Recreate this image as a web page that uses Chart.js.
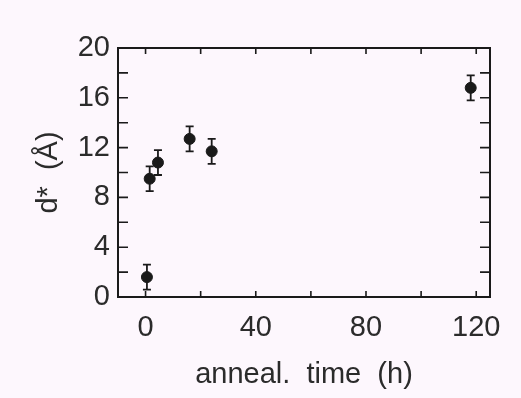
<!DOCTYPE html>
<html lang="en">

<head>
    <meta charset="utf-8">
    <title>d* vs anneal time</title>
    <script src="https://cdn.jsdelivr.net/npm/chart.js@4.4.0/dist/chart.umd.min.js"></script>
    <style>
        html, body { margin: 0; padding: 0; background: #fdf7fd; }
        #wrap { width: 521px; height: 398px; }
    </style>
</head>

<body>
    <div id="wrap"><canvas id="myChart" width="521" height="398"></canvas></div>
    <script>
        // anneal time (h) and d* (Å) with error bars
        const annealTime = [0.5, 1.5, 4.5, 16, 24, 118];
        const dStar = [1.6, 9.5, 10.8, 12.7, 11.7, 16.8];
        const dErr = [1.0, 1.0, 1.0, 1.0, 1.0, 1.0];

        const xTickLabels = [0, 40, 80, 120];
        const yTickLabels = [0, 4, 8, 12, 16, 20];

        const ink = '#1a1a1a';
        const textInk = '#2b2b2b';
        const tickFont = { family: 'Liberation Sans', size: 29 };

        // frame, inward ticks and error bars
        const framePlugin = {
            id: 'frame',
            afterDatasetsDraw(chart) {
                const ctx = chart.ctx;
                const a = chart.chartArea;
                const xs = chart.scales.x, ys = chart.scales.y;
                ctx.save();
                ctx.strokeStyle = ink;
                ctx.lineWidth = 2;
                ctx.strokeRect(a.left, a.top, a.right - a.left, a.bottom - a.top);

                ctx.lineWidth = 1.6;
                ctx.beginPath();
                xs.ticks.forEach(t => {
                    if (t.value % 20 !== 0) return;
                    const px = xs.getPixelForValue(t.value);
                    ctx.moveTo(px, a.bottom); ctx.lineTo(px, a.bottom - 6);
                    ctx.moveTo(px, a.top); ctx.lineTo(px, a.top + 6);
                });
                ys.ticks.forEach(t => {
                    if (t.value % 2 !== 0 || t.value <= 0 || t.value >= 20) return;
                    const py = ys.getPixelForValue(t.value);
                    ctx.moveTo(a.left, py); ctx.lineTo(a.left + 10, py);
                    ctx.moveTo(a.right, py); ctx.lineTo(a.right - 10, py);
                });
                ctx.stroke();

                // error bars
                ctx.lineWidth = 1.8;
                ctx.beginPath();
                annealTime.forEach((t, i) => {
                    const px = xs.getPixelForValue(t);
                    const hi = ys.getPixelForValue(dStar[i] + dErr[i]);
                    const lo = ys.getPixelForValue(dStar[i] - dErr[i]);
                    ctx.moveTo(px, hi); ctx.lineTo(px, lo);
                    ctx.moveTo(px - 4, hi); ctx.lineTo(px + 4, hi);
                    ctx.moveTo(px - 4, lo); ctx.lineTo(px + 4, lo);
                });
                ctx.stroke();
                ctx.restore();
            }
        };

        new Chart(document.getElementById('myChart'), {
            type: 'scatter',
            data: {
                datasets: [{
                    label: 'd*',
                    data: annealTime.map((t, i) => ({ x: t, y: dStar[i] })),
                    backgroundColor: ink,
                    borderColor: ink,
                    pointRadius: 5.5,
                    pointHoverRadius: 5.5
                }]
            },
            options: {
                responsive: false,
                animation: false,
                layout: { padding: { top: 48, right: 31, left: 0, bottom: 0 } },
                plugins: { legend: { display: false }, tooltip: { enabled: false } },
                scales: {
                    x: {
                        type: 'linear',
                        min: -10,
                        max: 125,
                        afterFit: s => { s.height = 101; },
                        border: { display: false },
                        grid: { display: false, drawTicks: false },
                        ticks: {
                            stepSize: 20,
                            includeBounds: false,
                            padding: 14,
                            color: textInk,
                            font: tickFont,
                            maxRotation: 0,
                            autoSkip: false,
                            callback: v => xTickLabels.includes(v) ? String(v) : ''
                        },
                        title: {
                            display: true,
                            text: 'anneal.  time  (h)',
                            color: textInk,
                            font: { family: 'Liberation Sans', size: 29 },
                            padding: { top: 0, bottom: 6 }
                        }
                    },
                    y: {
                        min: 0,
                        max: 20,
                        afterFit: s => { s.width = 118; },
                        border: { display: false },
                        grid: { display: false, drawTicks: false },
                        ticks: {
                            stepSize: 2,
                            padding: 8,
                            color: textInk,
                            font: tickFont,
                            autoSkip: false,
                            callback: v => yTickLabels.includes(v) ? String(v) : ''
                        },
                        title: {
                            display: true,
                            text: 'd*  (Å)',
                            color: textInk,
                            font: { family: 'Liberation Sans', size: 29 },
                            padding: { top: 32, bottom: 0 }
                        }
                    }
                }
            },
            plugins: [framePlugin]
        });
    </script>
</body>

</html>
